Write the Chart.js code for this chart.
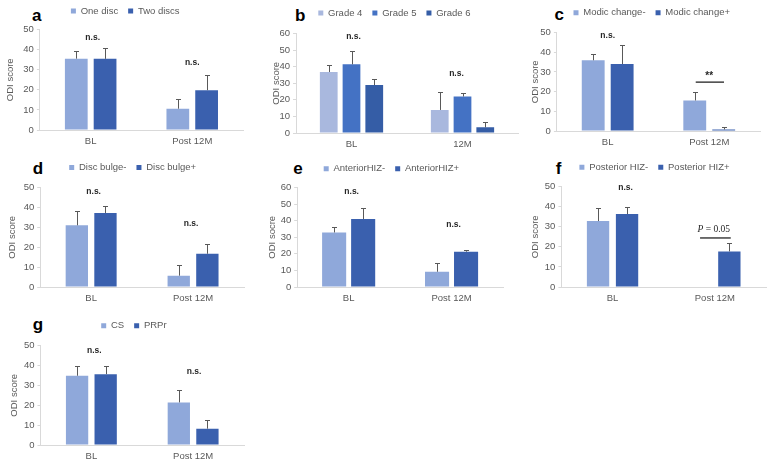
<!DOCTYPE html>
<html>
<head>
<meta charset="utf-8">
<script src="https://cdn.jsdelivr.net/npm/chart.js@4.4.1/dist/chart.umd.min.js"></script>
<style>
  html, body { margin: 0; padding: 0; background: #fff; }
  #wrap { position: relative; width: 770px; height: 466px; overflow: hidden; background: #fff; }
  canvas { position: absolute; }
  .tag { position: absolute; font: bold 17px 'Liberation Sans', Arial, sans-serif; color: #000; line-height: 17px; }
</style>
</head>
<body>
<div id="wrap"></div>
<script>
// Categories
const timeCats = ['BL', 'Post 12M'];
const gradeCats = ['BL', '12M'];

// a: number of discs
const oneDisc = [35.5, 10.6];
const oneDiscSd = [3.6, 4.6];
const twoDiscs = [35.4, 19.8];
const twoDiscsSd = [5.2, 7.4];

// b: Pfirrmann grade
const grade4 = [36.8, 13.9];
const grade4Sd = [4.0, 10.6];
const grade5 = [41.4, 22.0];
const grade5Sd = [8.1, 2.4];
const grade6 = [28.9, 3.4];
const grade6Sd = [3.4, 3.3];

// c: Modic change
const modicNeg = [35.9, 15.5];
const modicNegSd = [3.4, 4.4];
const modicPos = [34.0, 0.8];
const modicPosSd = [9.5, 1.0];

// d: disc bulge
const bulgeNeg = [31.0, 5.7];
const bulgeNegSd = [7.0, 5.4];
const bulgePos = [37.2, 16.7];
const bulgePosSd = [3.4, 4.7];

// e: anterior HIZ
const antHizNeg = [32.9, 9.2];
const antHizNegSd = [3.4, 5.5];
const antHizPos = [41.0, 21.3];
const antHizPosSd = [6.6, 1.0];

// f: posterior HIZ (no Post 12M value for HIZ-)
const postHizNeg = [32.8, null];
const postHizNegSd = [6.7, null];
const postHizPos = [36.3, 17.7];
const postHizPosSd = [3.4, 4.0];

// g: CS vs PRPr
const csGroup = [34.8, 21.4];
const csGroupSd = [4.8, 6.2];
const prprGroup = [35.6, 8.2];
const prprGroupSd = [4.2, 4.3];

const LIGHT = '#8FA8DA';
const DARK = '#3A60AE';
const TXT = '#595959';

Chart.defaults.font.family = "'Liberation Sans', Arial, sans-serif";

const panels = [
  { letter: 'a', tag: [32, 21], cats: timeCats, yMax: 50, yTitle: 'ODI score',
    series: [['One disc', oneDisc, oneDiscSd, LIGHT], ['Two discs', twoDiscs, twoDiscsSd, DARK]],
    box: { titleX: 10.8, left: 40, right: 242.6, top: 29.3, zero: 129.3 }, legend: [71, 10.7], cp: 0.567, bp: 0.79,
    notes: [{ cat: 0, dx: 2, y: 45.8, text: 'n.s.' }, { cat: 1, dx: 0, y: 33.6, text: 'n.s.' }] },
  { letter: 'b', tag: [295, 21], cats: gradeCats, yMax: 60, yTitle: 'ODI score',
    series: [['Grade 4', grade4, grade4Sd, '#A9B8DE'], ['Grade 5', grade5, grade5Sd, '#4472C4'], ['Grade 6', grade6, grade6Sd, '#355DA6']],
    box: { titleX: 276.7, left: 296, right: 517.6, top: 33.7, zero: 132.7 }, legend: [318.3, 13.3], cp: 0.615, bp: 0.78,
    notes: [{ cat: 0, dx: 2, y: 58.2, text: 'n.s.' }, { cat: 1, dx: -6, y: 35.6, text: 'n.s.' }] },
  { letter: 'c', tag: [554.5, 20.7], cats: timeCats, yMax: 50, yTitle: 'ODI score',
    series: [['Modic change-', modicNeg, modicNegSd, LIGHT], ['Modic change+', modicPos, modicPosSd, DARK]],
    box: { titleX: 535.5, left: 556.7, right: 760.1, top: 32, zero: 130 }, legend: [573.3, 12.3], cp: 0.57, bp: 0.79,
    notes: [{ cat: 0, dx: 0, y: 48.6, text: 'n.s.' }, { cat: 1, dx: 0, y: 27.8, text: '**', line: [-13.5, 14.8, 24.8] }] },
  { letter: 'd', tag: [32.7, 174], cats: timeCats, yMax: 50, yTitle: 'ODI score',
    series: [['Disc bulge-', bulgeNeg, bulgeNegSd, LIGHT], ['Disc bulge+', bulgePos, bulgePosSd, DARK]],
    box: { titleX: 12.5, left: 40, right: 243.6, top: 187.7, zero: 286.7 }, legend: [69, 167.7], cp: 0.562, bp: 0.78,
    notes: [{ cat: 0, dx: 2.5, y: 47.7, text: 'n.s.' }, { cat: 1, dx: -2, y: 31.7, text: 'n.s.' }] },
  { letter: 'e', tag: [293.3, 174.3], cats: timeCats, yMax: 60, yTitle: 'ODI socre',
    series: [['AnteriorHIZ-', antHizNeg, antHizNegSd, LIGHT], ['AnteriorHIZ+', antHizPos, antHizPosSd, DARK]],
    box: { titleX: 273, left: 297.5, right: 503.1, top: 187, zero: 286.7 }, legend: [324, 168.3], cp: 0.564, bp: 0.83,
    notes: [{ cat: 0, dx: 3, y: 57.2, text: 'n.s.' }, { cat: 1, dx: 2, y: 37.8, text: 'n.s.' }] },
  { letter: 'f', tag: [555.7, 174], cats: timeCats, yMax: 50, yTitle: 'ODI score',
    series: [['Posterior HIZ-', postHizNeg, postHizNegSd, LIGHT], ['Posterior HIZ+', postHizPos, postHizPosSd, DARK]],
    box: { titleX: 535.3, left: 561, right: 765.6, top: 186, zero: 286 }, legend: [579, 166.7], cp: 0.567, bp: 0.77,
    notes: [{ cat: 0, dx: 13, y: 49.2, text: 'n.s.' }, { cat: 1, dx: -1, y: 28.7, text: 'P', line: [-14.8, 15.9, 24.4] }] },
  { letter: 'g', tag: [32.7, 330], cats: timeCats, yMax: 50, yTitle: 'ODI score',
    series: [['CS', csGroup, csGroupSd, LIGHT], ['PRPr', prprGroup, prprGroupSd, DARK]],
    box: { titleX: 14.2, left: 40, right: 243.6, top: 345.7, zero: 445.3 }, legend: [100.7, 326], cp: 0.562, bp: 0.78,
    notes: [{ cat: 0, dx: 3, y: 47.4, text: 'n.s.' }, { cat: 1, dx: 1, y: 37, text: 'n.s.' }] }
];

const wrap = document.getElementById('wrap');

function decoPlugin(p, g) {
  return {
    id: 'deco' + p.letter,
    afterLayout(chart) {
      // put the legend where the original has it
      const lg = chart.legend;
      const dx = (p.legend[0] - g.x) - (lg.left + 10);
      const dy = (p.legend[1] - g.y) - (lg.top + 10 + 4.75);
      lg.left += dx; lg.right += dx; lg.top += dy; lg.bottom += dy;
    },
    afterDatasetsDraw(chart) {
      const ctx = chart.ctx, xs = chart.scales.x, ys = chart.scales.y;
      ctx.save();
      // upper error bars
      ctx.strokeStyle = TXT;
      ctx.lineWidth = 1;
      chart.data.datasets.forEach((ds, i) => {
        chart.getDatasetMeta(i).data.forEach((bar, j) => {
          const v = ds.data[j], e = ds.sd[j];
          if (v == null || e == null) return;
          const x = Math.round(bar.x) + 0.5;
          const yTop = Math.round(ys.getPixelForValue(v + e)) + 0.5;
          ctx.beginPath();
          ctx.moveTo(x, bar.y);
          ctx.lineTo(x, yTop);
          ctx.moveTo(x - 2.5, yTop);
          ctx.lineTo(x + 2.5, yTop);
          ctx.stroke();
        });
      });
      // significance notes
      p.notes.forEach(n => {
        const cx = xs.getPixelForValue(n.cat);
        if (n.line) {
          const ly = ys.getPixelForValue(n.line[2]);
          ctx.strokeStyle = '#404040';
          ctx.lineWidth = 1.5;
          ctx.beginPath();
          ctx.moveTo(cx + n.line[0], ly);
          ctx.lineTo(cx + n.line[1], ly);
          ctx.stroke();
        }
        const tx = cx + n.dx, ty = ys.getPixelForValue(n.y);
        ctx.fillStyle = '#262626';
        ctx.textBaseline = 'middle';
        if (n.text === 'P') {
          ctx.font = "italic 9.5px 'Liberation Serif', 'Times New Roman', serif";
          const w1 = ctx.measureText('P').width;
          ctx.font = "9.5px 'Liberation Serif', 'Times New Roman', serif";
          const rest = ' = 0.05';
          const w2 = ctx.measureText(rest).width;
          const x0 = tx - (w1 + w2) / 2;
          ctx.textAlign = 'left';
          ctx.font = "italic 9.5px 'Liberation Serif', 'Times New Roman', serif";
          ctx.fillText('P', x0, ty);
          ctx.font = "9.5px 'Liberation Serif', 'Times New Roman', serif";
          ctx.fillText(rest, x0 + w1, ty);
        } else {
          ctx.textAlign = 'center';
          ctx.font = n.text === '**' ? "bold 10px 'Liberation Sans', Arial, sans-serif" : "bold 8.5px 'Liberation Sans', Arial, sans-serif";
          ctx.fillText(n.text, tx, ty);
        }
      });
      ctx.restore();
    }
  };
}

panels.forEach(p => {
  const b = p.box;
  const g = {
    x: b.titleX - 5.7,
    y: b.top - 29.5 - 2
  };
  const w = Math.round(b.right + 2 - g.x);
  const h = Math.round(b.zero + 22 - g.y);

  const tag = document.createElement('div');
  tag.className = 'tag';
  tag.textContent = p.letter;
  tag.style.left = p.tag[0] + 'px';
  tag.style.top = (p.tag[1] - 14.4) + 'px';
  wrap.appendChild(tag);

  const cv = document.createElement('canvas');
  cv.width = w; cv.height = h;
  cv.style.left = g.x + 'px';
  cv.style.top = g.y + 'px';
  cv.style.width = w + 'px';
  cv.style.height = h + 'px';
  wrap.appendChild(cv);

  new Chart(cv.getContext('2d'), {
    type: 'bar',
    data: {
      labels: p.cats,
      datasets: p.series.map(s => ({
        label: s[0], data: s[1], sd: s[2],
        backgroundColor: s[3], borderWidth: 0,
        categoryPercentage: p.cp, barPercentage: p.bp
      }))
    },
    options: {
      responsive: false,
      animation: false,
      devicePixelRatio: 1,
      layout: { padding: { top: 2, right: 2, bottom: 0, left: 0 } },
      plugins: {
        legend: {
          position: 'top', align: 'start',
          labels: { boxWidth: 5, boxHeight: 5, padding: 10, color: TXT, font: { size: 9.5 } }
        },
        tooltip: { enabled: false }
      },
      scales: {
        x: {
          ticks: { color: TXT, font: { size: 9.5 }, padding: 6 },
          grid: { display: true, drawOnChartArea: false, drawTicks: false },
          border: { display: true, color: '#d9d9d9' },
          afterFit: s => { s.height = 22; }
        },
        y: {
          min: 0, max: p.yMax,
          ticks: { stepSize: 10, color: TXT, font: { size: 9.5 }, padding: 3 },
          grid: { display: true, drawOnChartArea: false, drawTicks: true, tickLength: 3, color: '#d9d9d9' },
          border: { display: true, color: '#d9d9d9' },
          title: { display: true, text: p.yTitle, color: TXT, font: { size: 9.5 }, padding: 0 },
          afterFit: s => { s.width = b.left - g.x; }
        }
      }
    },
    plugins: [decoPlugin(p, g)]
  });
});
</script>
</body>
</html>
